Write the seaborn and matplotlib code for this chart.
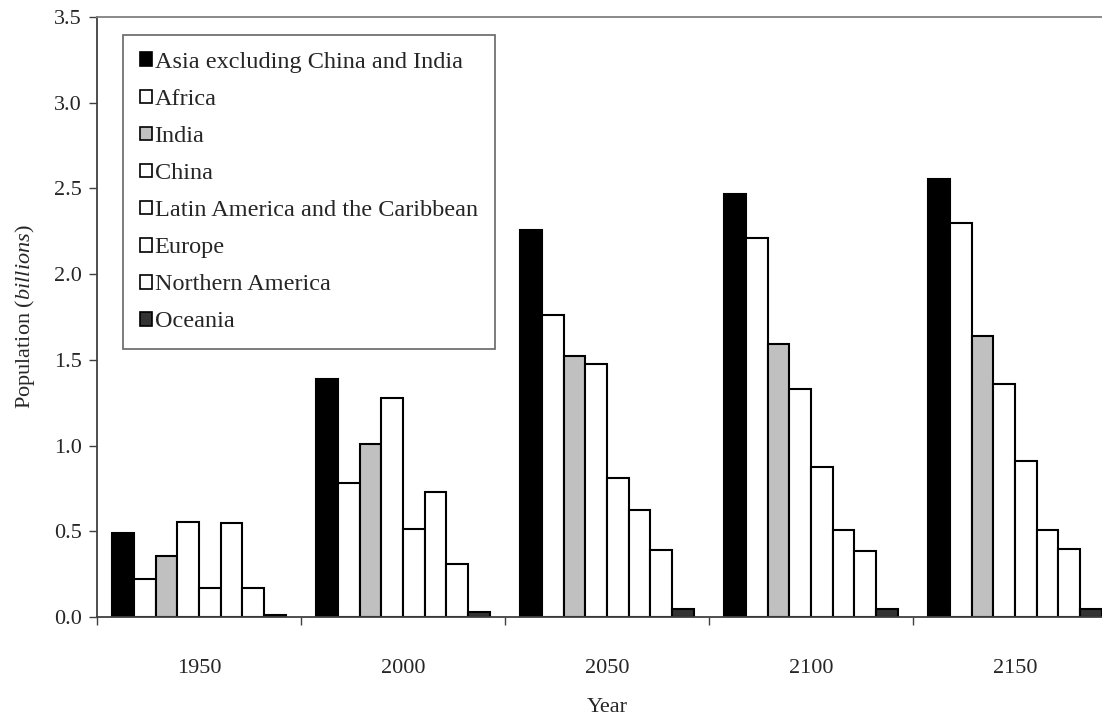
import numpy as np
import pandas as pd
import seaborn as sns
import matplotlib.pyplot as plt
from matplotlib.patches import Patch
from matplotlib.ticker import FixedLocator

years = ["1950", "2000", "2050", "2100", "2150"]
regions = ["Asia excluding China and India", "Africa", "India", "China",
           "Latin America and the Caribbean", "Europe", "Northern America", "Oceania"]

asia_ex = [0.49, 1.39, 2.26, 2.47, 2.555]
africa = [0.22, 0.78, 1.76, 2.21, 2.30]
india = [0.357, 1.01, 1.525, 1.59, 1.64]
china = [0.555, 1.275, 1.475, 1.33, 1.36]
latin = [0.167, 0.516, 0.81, 0.875, 0.91]
europe = [0.548, 0.727, 0.625, 0.51, 0.51]
n_america = [0.172, 0.307, 0.39, 0.384, 0.394]
oceania = [0.013, 0.03, 0.046, 0.047, 0.049]

colors = ["#000000", "#ffffff", "#c0c0c0", "#ffffff", "#ffffff", "#ffffff", "#ffffff", "#333333"]

series = [asia_ex, africa, india, china, latin, europe, n_america, oceania]
rows = []
for reg, vals in zip(regions, series):
    for yr, v in zip(years, vals):
        rows.append({"Year": yr, "Region": reg, "Population": v})
df = pd.DataFrame(rows)
palette = dict(zip(regions, colors))

sns.set_theme(style="white")
plt.rcParams['font.family'] = ['Liberation Serif', 'DejaVu Serif']
plt.rcParams['mathtext.fontset'] = 'custom'
plt.rcParams['mathtext.rm'] = 'Liberation Serif'
plt.rcParams['mathtext.it'] = 'Liberation Serif:italic'

fs = 16
fig = plt.figure(figsize=(11.02, 7.19), dpi=100)
ax = fig.add_axes([97 / 1102, 102 / 719, 1020 / 1102, 600 / 719])

sns.barplot(data=df, x="Year", y="Population", hue="Region", order=years,
            hue_order=regions, palette=palette, width=0.85, edgecolor="black",
            linewidth=1.5, saturation=1, legend=False, ax=ax)

ax.set_xlim(-0.5, 4.5)
ax.set_ylim(0, 3.5)
ax.set_yticks(np.arange(0, 3.51, 0.5))
ax.set_yticklabels([f"{v:.1f}" for v in np.arange(0, 3.51, 0.5)], fontsize=fs)
ax.set_xticks(range(len(years)))
ax.set_xticklabels(years, fontsize=fs)
ax.xaxis.set_minor_locator(FixedLocator(np.arange(-0.5, 4.6, 1.0)))
ax.tick_params(axis="x", which="major", length=0, pad=30)
ax.tick_params(axis="x", which="minor", length=6, width=1, direction="out",
               color="#404040", bottom=True)
ax.tick_params(axis="y", length=6, width=1, direction="out", color="#404040",
               left=True, pad=5)

ax.set_xlabel("Year", fontsize=fs, labelpad=15)
ax.set_ylabel(r"Population ($\mathit{billions}$)", fontsize=fs, labelpad=12)

for side in ["left", "bottom"]:
    ax.spines[side].set_color("#404040")
    ax.spines[side].set_linewidth(1.3)
ax.spines["top"].set_color("#808080")
ax.spines["top"].set_linewidth(1.3)
ax.spines["right"].set_visible(False)

handles = [Patch(facecolor=c, edgecolor="black", linewidth=1.2, label=r)
           for r, c in zip(regions, colors)]
leg = ax.legend(handles=handles, loc="upper left",
                bbox_to_anchor=((123 - 97) / 1020, (617 - 35) / 600),
                borderaxespad=0, fontsize=17.5, frameon=True, fancybox=False,
                handlelength=0.5, handleheight=0.5, handletextpad=0.1,
                labelspacing=0.66, borderpad=0.7)
leg.get_frame().set_edgecolor("#404040")
leg.get_frame().set_linewidth(1.2)

fig.savefig("out.png", dpi=100)
